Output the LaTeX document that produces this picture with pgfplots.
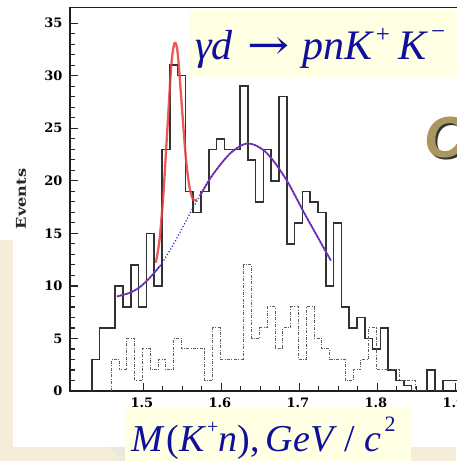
\documentclass[border=0pt]{standalone}
\usepackage{pgfplots}
\pgfplotsset{compat=1.18}
\usetikzlibrary{backgrounds}
\usepackage{fontspec}
\setmainfont{Liberation Serif}
\newfontfamily\djs{DejaVu Serif}
\newfontfamily\lsans{Liberation Sans}
\definecolor{navy}{RGB}{15,15,155}
\definecolor{boxy}{RGB}{255,255,228}
\definecolor{beige}{RGB}{246,237,216}
\definecolor{histc}{RGB}{50,50,50}
\definecolor{ddc}{RGB}{95,95,95}
\definecolor{fitred}{RGB}{232,60,60}
\definecolor{fitpur}{RGB}{140,60,170}
\definecolor{fitblue}{RGB}{40,40,210}
\definecolor{gold}{RGB}{170,150,95}
\newcommand\sups[3]{\raisebox{#1pt}{\fontsize{#2}{#2}\selectfont\upshape #3}}
\begin{document}
\begin{tikzpicture}[x=1pt,y=1pt]
\begin{axis}[
 at={(70,70)}, anchor=south west, scale only axis,
 width=432.12pt, height=383.6pt,
 xmin=1.406, xmax=1.96, ymin=0, ymax=36.5,
 axis line style={line width=1.6pt, color=black!88},
 xtick={1.5,1.6,1.7,1.8,1.9}, ytick={0,5,...,35},
 minor x tick num=3, minor y tick num=4,
 tick align=inside, xtick pos=left, ytick pos=left,
 major tick length=8pt, minor tick length=4.5pt,
 tick style={line width=1.2pt, color=black!85},
 tick label style={font=\djs\bfseries\fontsize{13}{13}\selectfont},
 /pgf/number format/assume math mode=true,
 xticklabel style={yshift=-3pt, xshift=-1.5pt},
 yticklabel style={xshift=-4pt},
]
% solid histogram
\addplot[const plot, color=histc, line width=1.5pt] coordinates {
(1.434,0) (1.434,3) (1.444,6) (1.454,6) (1.464,10) (1.474,8) (1.484,12)
(1.494,8) (1.504,15) (1.514,10) (1.524,23) (1.534,31) (1.544,30) (1.554,19)
(1.564,17) (1.574,19) (1.584,23) (1.594,24) (1.604,23) (1.614,23) (1.624,29)
(1.634,22) (1.644,18) (1.654,23) (1.664,20) (1.674,28) (1.684,14) (1.694,16)
(1.704,19) (1.714,18) (1.724,17) (1.734,10) (1.744,16) (1.754,8) (1.764,6)
(1.774,7) (1.784,5) (1.794,4) (1.804,6) (1.814,2) (1.824,1) (1.834,0.5)
(1.844,0) (1.854,0) (1.864,2) (1.874,0) (1.884,1) (1.894,1) (1.904,0)
};
% dash-dot histogram
\addplot[const plot, color=ddc, line width=1pt, dash pattern=on 3pt off 1.5pt on 0.8pt off 1.5pt] coordinates {
(1.459,0) (1.459,3) (1.469,2) (1.479,5) (1.489,1) (1.499,4) (1.509,2)
(1.519,3) (1.529,2) (1.539,5) (1.549,4) (1.559,4) (1.569,4) (1.579,1)
(1.589,6) (1.599,3) (1.609,3) (1.619,3) (1.629,12) (1.639,5) (1.649,6)
(1.659,8) (1.669,4) (1.679,6) (1.689,8) (1.699,3) (1.709,8) (1.719,5)
(1.729,4) (1.739,3) (1.749,3) (1.759,1) (1.769,2) (1.779,3) (1.789,6)
(1.799,2) (1.809,2) (1.819,2) (1.829,1) (1.839,1) (1.849,0)
};
% background fit, purple parts
\addplot[smooth, color=fitpur, line width=1.8pt] coordinates {
(1.4663,9.0) (1.4829,9.35) (1.4958,9.9) (1.5086,10.8) (1.5214,11.9)
};
\addplot[smooth, color=fitpur, line width=1.8pt] coordinates {
(1.5727,18.6) (1.5855,20.2) (1.5983,21.5) (1.6112,22.6) (1.6240,23.3)
(1.6329,23.55) (1.6432,23.4) (1.6560,22.8) (1.6688,21.7) (1.6842,20.0)
(1.6945,18.6) (1.7073,16.8) (1.7201,15.1) (1.7329,13.4) (1.7406,12.4)
};
% peak fit (red)
\addplot[smooth, color=fitred, line width=2.3pt, opacity=0.85] coordinates {
(1.5160,12.2) (1.5208,14.4) (1.5256,18.6)
(1.5304,24.4) (1.5352,30.3) (1.5376,32.2) (1.5400,33.1) (1.5424,32.9)
(1.5448,31.6) (1.5496,26.9) (1.5544,22.3) (1.5592,19.4) (1.5640,18.2)
(1.5689,18.2)
};
% background fit (blue dotted)
\addplot[smooth, color=fitblue, line width=1.2pt, dotted] coordinates {
(1.4663,9.0) (1.4829,9.35) (1.4958,9.9) (1.5086,10.8) (1.5214,11.9)
(1.5342,13.4) (1.5471,15.1) (1.5599,16.9) (1.5727,18.6) (1.5855,20.2)
(1.5983,21.5) (1.6112,22.6) (1.6240,23.3) (1.6329,23.55) (1.6432,23.4)
(1.6560,22.8) (1.6688,21.7) (1.6842,20.0) (1.6945,18.6) (1.7073,16.8)
(1.7201,15.1) (1.7329,13.4) (1.7406,12.4)
};
\coordinate (O) at (axis cs:1.406,0);
\end{axis}
\begin{scope}[shift={(O)}, xshift=-70pt, yshift=-70pt]
% Events label
\node[rotate=90, font=\djs\bfseries\fontsize{13.5}{13.5}\selectfont, text=black!85, inner sep=0] at (21,262) {\scalebox{1.2}[1]{Events}};
% top formula box
\fill[boxy] (190,384) rectangle (460,451);
\node[anchor=base west, inner sep=0, text=navy, font=\fontsize{42}{42}\selectfont\itshape] at (195,401)
 {γd\hspace{15pt}{\djs\upshape\scalebox{1.2}[1]{→}}\hspace{13pt}pnK\kern3pt\sups{17}{25}{+}\hspace{8pt}K\kern5pt\sups{20}{25}{−}};
% bottom formula box
\fill[black!10, opacity=0.6] (110,14) -- (125,14) -- (125,0) -- (121,0) -- cycle;
\fill[boxy] (125,0) rectangle (411,53);
\node[anchor=base west, inner sep=0, text=navy, font=\fontsize{38}{38}\selectfont] at (131,9.3)
 {\textit{M}\kern2pt(\textit{K}\kern1pt\sups{18}{20}{+}\textit{n}),\,\textit{GeV}\kern7pt/\kern10pt\textit{c}\kern3pt\sups{20}{22}{2}};
% CLAS fragment
\node[anchor=base west, inner sep=0, font=\lsans\bfseries\itshape\fontsize{58}{58}\selectfont, text=black!80] at (426.5,301.5) {CLAS};
\node[anchor=base west, inner sep=0, font=\lsans\bfseries\itshape\fontsize{58}{58}\selectfont, text=gold] at (424.5,303.5) {CLAS};
\end{scope}
\begin{scope}[on background layer, shift={(O)}, xshift=-70pt, yshift=-70pt]
\fill[white] (0,0) rectangle (456,461);
\fill[beige] (0,0) rectangle (456,14);
\fill[beige] (0,14) rectangle (12.5,221);
\end{scope}
\pgfresetboundingbox
\path[use as bounding box, shift={(O)}, xshift=-70pt, yshift=-70pt] (0,0) rectangle (456,461);
\end{tikzpicture}
\end{document}
